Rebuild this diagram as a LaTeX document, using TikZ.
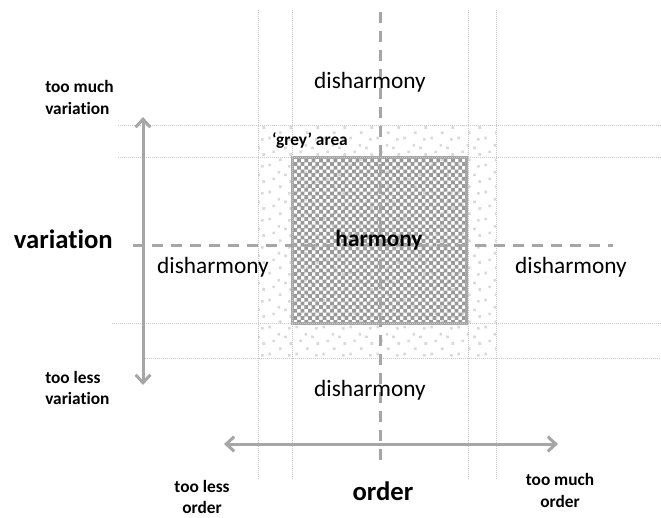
\documentclass[tikz,border=0pt]{standalone}
\usepackage{fontspec}
\setmainfont{Carlito}[Ligatures=NoCommon]
\usetikzlibrary{arrows.meta,patterns}

\definecolor{linegrey}{HTML}{A6A6A6}
\definecolor{guidegrey}{HTML}{C8C8C8}

% small checker for the harmony square
\pgfdeclarepatternformonly{fine checker}{\pgfqpoint{-.1pt}{-.1pt}}{\pgfqpoint{5.6pt}{5.6pt}}{\pgfqpoint{5.5pt}{5.5pt}}{%
  \pgfpathrectangle{\pgfqpoint{0pt}{0pt}}{\pgfqpoint{2.85pt}{2.85pt}}%
  \pgfpathrectangle{\pgfqpoint{2.75pt}{2.75pt}}{\pgfqpoint{2.85pt}{2.85pt}}%
  \pgfusepath{fill}}

% sparse specks for the grey area
\pgfdeclarepatternformonly{grey specks}{\pgfpointorigin}{\pgfqpoint{20pt}{20pt}}{\pgfqpoint{20pt}{20pt}}{%
  \pgfpathrectangle{\pgfqpoint{1pt}{2pt}}{\pgfqpoint{2pt}{2pt}}%
  \pgfpathrectangle{\pgfqpoint{9pt}{6pt}}{\pgfqpoint{2pt}{2pt}}%
  \pgfpathrectangle{\pgfqpoint{16pt}{1pt}}{\pgfqpoint{2pt}{2pt}}%
  \pgfpathrectangle{\pgfqpoint{4pt}{12pt}}{\pgfqpoint{2pt}{2pt}}%
  \pgfpathrectangle{\pgfqpoint{13pt}{15pt}}{\pgfqpoint{2pt}{2pt}}%
  \pgfpathrectangle{\pgfqpoint{17pt}{10pt}}{\pgfqpoint{2pt}{2pt}}%
  \pgfpathrectangle{\pgfqpoint{8pt}{17pt}}{\pgfqpoint{2pt}{2pt}}%
  \pgfusepath{fill}}

\begin{document}
\begin{tikzpicture}[x=0.75pt,y=-0.75pt,
    guide/.style={guidegrey,line width=0.5pt,dash pattern=on 0.75pt off 0.75pt},
    cross dash/.style={linegrey,line width=2.25pt,dash pattern=on 8.25pt off 6pt},
    scale arrow/.style={linegrey,line width=2.25pt,{Straight Barb[length=6pt,width=11pt]}-{Straight Barb[length=6pt,width=11pt]}},
    word/.style={inner sep=0pt,font=\fontsize{17.5}{21}\selectfont},
    big word/.style={inner sep=0pt,font=\fontsize{20}{24}\selectfont\bfseries},
    small word/.style={inner sep=0pt,font=\fontsize{13}{16}\selectfont\bfseries}]

    \useasboundingbox (0,0) rectangle (661,518);

    % grey area and harmony square
    \fill[pattern=grey specks,pattern color=gray!30] (258,125) rectangle (496,358);
    \node[draw=linegrey,line width=2.25pt,pattern=fine checker,pattern color=gray!80,
          minimum width=130.5pt,minimum height=124.5pt,inner sep=0pt] (sq) at (379,240) {};

    % guide lines
    \foreach \gx in {258,292,468,496}
        \draw[guide] (\gx,10) -- (\gx,480);
    \draw[guide] (118,125) -- (661,125);
    \draw[guide] (118,157) -- (661,157);
    \draw[guide] (112,323) -- (661,323);
    \draw[guide] (145,358) -- (661,358);

    % cross lines
    \draw[cross dash] (380,12) -- (380,462);
    \draw[cross dash] (133,245) -- (613,245);

    % axes
    \coordinate (vtop) at (143,117);
    \coordinate (vbot) at (143,385);
    \coordinate (oleft) at (224,444);
    \coordinate (oright) at (558,444);
    \draw[scale arrow] (vtop) -- (vbot);
    \draw[scale arrow] (oleft) -- (oright);

    % labels
    \node[word] (harm) at (sq.center) {\bfseries harmony};
    \node[small word,anchor=base] (grey) at (310,145) {‘grey’ area};
    \node[word,anchor=base] (dtop) at (370,88) {disharmony};
    \node[word,anchor=base] (dleft) at (213,273) {disharmony};
    \node[word,anchor=base] (dright) at (571,273) {disharmony};
    \node[word,anchor=base] (dbot) at (370,396) {disharmony};

    \node[big word,anchor=base east] (var) at (113,248) {variation};
    \node[big word,anchor=base] (ord) at (383,500) {order};

    \node[small word,anchor=west,align=left] (muchvar) at (45,97.5) {too much\\variation};
    \node[small word,anchor=west,align=left] (lessvar) at (45,388) {too less\\variation};
    \node[small word,align=center] (lessord) at (202,497) {too less\\order};
    \node[small word,align=center] (muchord) at (560,490.5) {too much\\order};
\end{tikzpicture}
\end{document}
